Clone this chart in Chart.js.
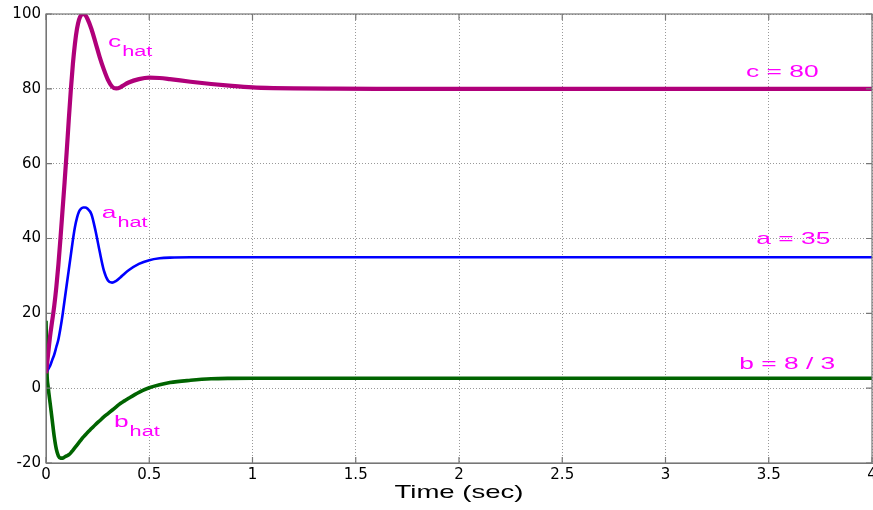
<!DOCTYPE html>
<html>
<head>
<meta charset="utf-8">
<script src="https://cdn.jsdelivr.net/npm/chart.js@4.4.1/dist/chart.umd.min.js"></script>
<style>
  html, body { margin: 0; padding: 0; background: #fff; overflow: hidden; }
  #wrap { width: 873px; height: 510px; }
</style>
</head>
<body>
<div id="wrap"><canvas id="estChart" width="873" height="510"></canvas></div>
<script>
// parameter estimates vs time
const timeSec = [0, 0.005, 0.01, 0.02, 0.03, 0.04, 0.05, 0.06, 0.07, 0.08, 0.09, 0.1, 0.11, 0.12, 0.13, 0.14, 0.15, 0.16, 0.17, 0.18, 0.19, 0.2,
  0.22, 0.24, 0.26, 0.28, 0.3, 0.32, 0.34, 0.36, 0.38, 0.4, 0.45, 0.5, 0.55, 0.6, 0.7, 0.8, 0.9, 1.0, 1.1, 1.2, 1.4, 1.6, 2, 3, 4]
const cHat = [4, 6.5, 9, 14, 18, 22, 27, 33, 40, 47.5, 55, 63, 71.5, 79.5, 86.5, 92, 96, 98.5, 99.7, 100, 99.7, 98.8,
  96, 92.3, 88.5, 85.2, 82.4, 80.6, 80.1, 80.4, 81.1, 81.7, 82.6, 83, 82.9, 82.6, 81.9, 81.3, 80.8, 80.4, 80.2, 80.1, 80.03, 80, 80, 80, 80]
const aHat = [4.5, 4.6, 5, 6, 7.5, 9, 11, 13, 16, 19.5, 23.5, 27.5, 31.5, 35.5, 39.5, 43, 45.5, 47.2, 48, 48.3, 48.3, 48,
  46.5, 42, 36.5, 31.5, 28.8, 28.2, 28.7, 29.6, 30.6, 31.5, 33.2, 34.2, 34.7, 34.9, 35, 35, 35, 35, 35, 35, 35, 35, 35, 35, 35]
const bHat = [18, 4, 0.5, -4, -8.5, -13, -16.3, -18.1, -18.7, -18.7, -18.4, -18.1, -17.8, -17.3, -16.6, -15.9, -15.2, -14.5, -13.8, -13.1, -12.5, -11.9,
  -10.8, -9.7, -8.7, -7.7, -6.8, -5.9, -5, -4.1, -3.4, -2.7, -1.1, 0.1, 0.9, 1.5, 2.1, 2.5, 2.62, 2.66, 2.667, 2.667, 2.667, 2.667, 2.667, 2.667, 2.667]

const xTickValues = [0, 0.5, 1, 1.5, 2, 2.5, 3, 3.5, 4]
const yTickValues = [-20, 0, 20, 40, 60, 80, 100]

// text labels placed in data coordinates
const curveLabels = [
  { text: 'c', sub: 'hat', t: 0.30, v: 91.2 },
  { text: 'a', sub: 'hat', t: 0.27, v: 45.4 },
  { text: 'b', sub: 'hat', t: 0.329, v: -10.4 },
  { text: 'c = 80', t: 3.39, v: 83.2 },
  { text: 'a = 35', t: 3.44, v: 38.4 },
  { text: 'b = 8 / 3', t: 3.357, v: 5.0 }
]

const STRETCH = 1.55
const LABEL_COLOR = '#ff00ff'

const toXY = vals => timeSec.map((t, i) => ({ x: t, y: vals[i] }))

function stretchedText (ctx, text, x, y, font, k = STRETCH) {
  ctx.save()
  ctx.font = font
  ctx.translate(x, y)
  ctx.scale(k, 1)
  ctx.fillText(text, 0, 0)
  const w = ctx.measureText(text).width * k
  ctx.restore()
  return w
}

const matlabLook = {
  id: 'matlabLook',
  afterDatasetsDraw (chart) {
    const { ctx, chartArea: a, scales } = chart
    // box + inward ticks
    ctx.save()
    ctx.strokeStyle = '#777'
    ctx.lineWidth = 1.2
    ctx.strokeRect(a.left, a.top, a.right - a.left, a.bottom - a.top)
    ctx.beginPath()
    xTickValues.forEach(v => {
      const px = scales.x.getPixelForValue(v)
      ctx.moveTo(px, a.bottom); ctx.lineTo(px, a.bottom - 6)
      ctx.moveTo(px, a.top); ctx.lineTo(px, a.top + 6)
    })
    yTickValues.forEach(v => {
      const py = scales.y.getPixelForValue(v)
      ctx.moveTo(a.left, py); ctx.lineTo(a.left + 6, py)
      ctx.moveTo(a.right, py); ctx.lineTo(a.right - 6, py)
    })
    ctx.stroke()
    ctx.restore()

    // curve labels
    ctx.save()
    ctx.fillStyle = LABEL_COLOR
    ctx.textBaseline = 'alphabetic'
    curveLabels.forEach(l => {
      const x = scales.x.getPixelForValue(l.t)
      const y = scales.y.getPixelForValue(l.v)
      const w = stretchedText(ctx, l.text, x, y, '17px "Liberation Sans", Arial, sans-serif')
      if (l.sub) stretchedText(ctx, l.sub, x + w + 1, y + 9, '14px "Liberation Sans", Arial, sans-serif')
    })
    // axis title
    ctx.fillStyle = '#000'
    const titleFont = '19px "Liberation Sans", Arial, sans-serif'
    ctx.font = titleFont
    const tw = ctx.measureText('Time (sec)').width * 1.45
    stretchedText(ctx, 'Time (sec)', 459 - tw / 2, 498, titleFont, 1.45)
    ctx.restore()
  }
}

const tickFont = { family: '"DejaVu Sans", sans-serif', size: 15 }

new Chart(document.getElementById('estChart').getContext('2d'), {
  type: 'scatter',
  data: {
    datasets: [
      { label: 'c_hat', data: toXY(cHat), borderColor: '#b0007a', borderWidth: 4.2 },
      { label: 'a_hat', data: toXY(aHat), borderColor: '#0000ff', borderWidth: 2.6 },
      { label: 'b_hat', data: toXY(bHat), borderColor: '#006400', borderWidth: 3.6 }
    ].map(d => Object.assign(d, { showLine: true, pointRadius: 0, fill: false, cubicInterpolationMode: 'monotone' }))
  },
  options: {
    responsive: false,
    animation: false,
    layout: { padding: { top: 14, right: 1, left: 0, bottom: 0 } },
    plugins: { legend: { display: false }, tooltip: { enabled: false } },
    scales: {
      x: {
        type: 'linear', min: 0, max: 4,
        afterBuildTicks: s => { s.ticks = xTickValues.map(v => ({ value: v })) },
        afterFit: s => { s.height = 47; s.paddingLeft = 0; s.paddingRight = 0 },
        grid: { color: '#999', drawTicks: false },
        border: { color: '#777', dash: [1, 2] },
        ticks: { color: '#000', font: tickFont, padding: 3, maxRotation: 0, autoSkip: false, callback: v => String(v) }
      },
      y: {
        min: -20, max: 100,
        afterBuildTicks: s => { s.ticks = yTickValues.map(v => ({ value: v })) },
        afterFit: s => { s.width = 46; s.paddingTop = 0; s.paddingBottom = 0 },
        grid: { color: '#999', drawTicks: false },
        border: { color: '#777', dash: [1, 2] },
        ticks: { color: '#000', font: tickFont, padding: 5, callback: v => String(v) }
      }
    }
  },
  plugins: [matlabLook]
})
</script>
</body>
</html>
